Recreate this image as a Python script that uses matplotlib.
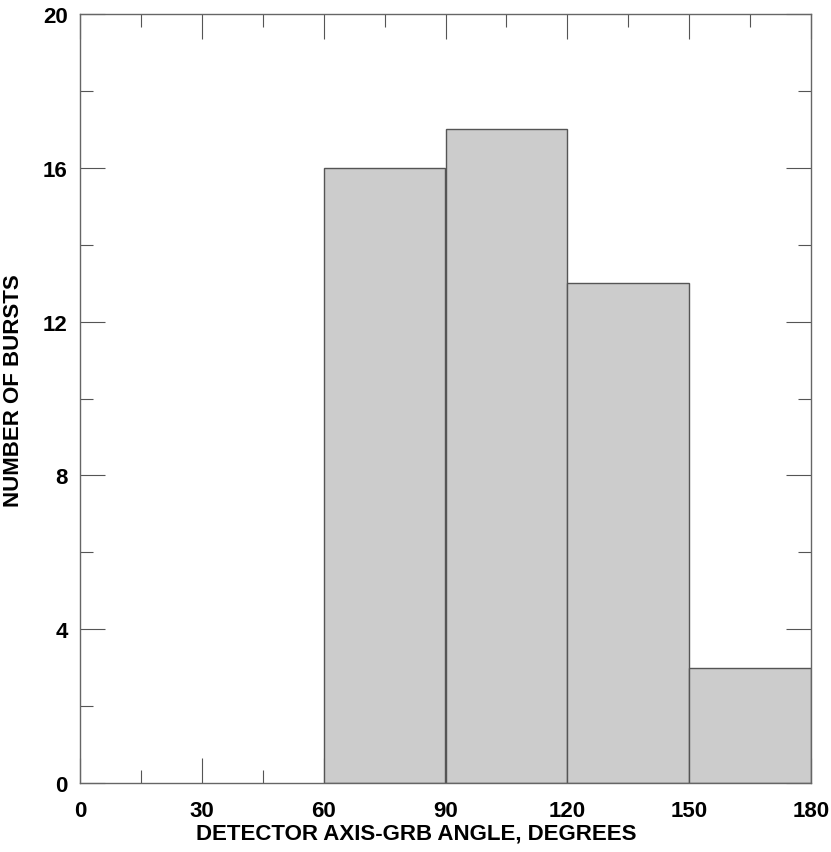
import matplotlib
matplotlib.use('Agg')
import matplotlib.pyplot as plt
from matplotlib.ticker import MultipleLocator

# histogram bins (degrees) and counts
bin_edges = [60, 90, 120, 150, 180]
counts = [16, 17, 13, 3]

plt.rcParams['font.family'] = ['Liberation Sans', 'DejaVu Sans']

fig = plt.figure(figsize=(8.31, 8.53), dpi=100)
ax = fig.add_axes([80 / 831, 69 / 853, 731 / 831, 769 / 853])

lefts = bin_edges[:-1]
widths = [b - a for a, b in zip(bin_edges[:-1], bin_edges[1:])]
ax.bar(lefts, counts, width=widths, align='edge', color='#cccccc',
       edgecolor='#555555', linewidth=1.0, zorder=2)

ax.set_xlim(0, 180)
ax.set_ylim(0, 20)
ax.xaxis.set_major_locator(MultipleLocator(30))
ax.xaxis.set_minor_locator(MultipleLocator(15))
ax.yaxis.set_major_locator(MultipleLocator(4))
ax.yaxis.set_minor_locator(MultipleLocator(2))

for s in ax.spines.values():
    s.set_color('#666666')
    s.set_linewidth(1.0)
    s.set_zorder(3)

ax.tick_params(which='both', direction='in', top=True, right=True,
               color='#555555', width=0.8)
ax.tick_params(which='major', length=18, labelsize=16)
ax.tick_params(which='minor', length=9.5)
ax.tick_params(axis='x', which='major', pad=12)
ax.tick_params(axis='y', which='major', pad=9)
for lab in ax.get_xticklabels() + ax.get_yticklabels():
    lab.set_fontweight('bold')

ax.set_xlabel('DETECTOR AXIS-GRB ANGLE, DEGREES', fontsize=16, fontweight='bold')
ax.set_ylabel('NUMBER OF BURSTS', fontsize=16, fontweight='bold')
ax.xaxis.set_label_coords(0.46, -0.052)
ax.yaxis.set_label_coords(-0.076, 0.512)

plt.savefig('out.png', dpi=100, facecolor='white')
plt.close()
